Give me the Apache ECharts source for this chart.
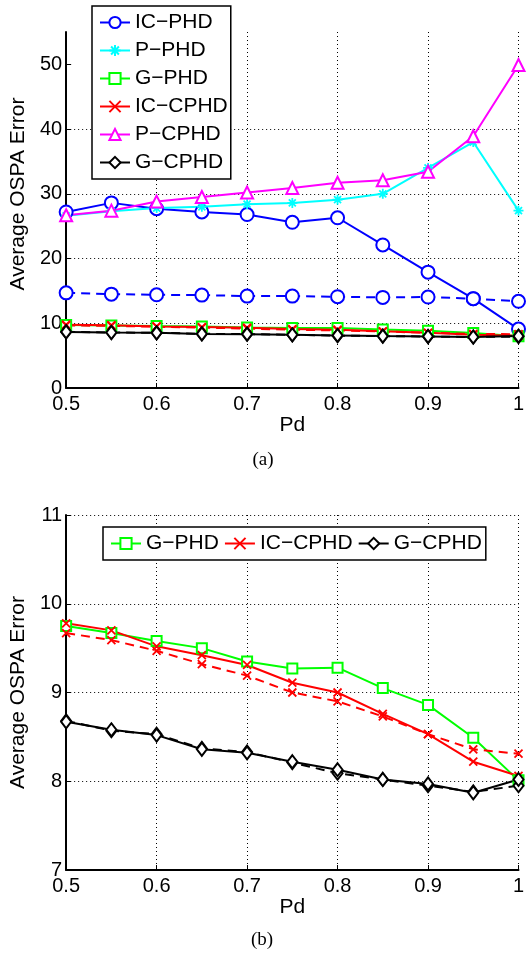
<!DOCTYPE html>
<html>
<head>
<meta charset="utf-8">
<script src="https://cdn.jsdelivr.net/npm/echarts@6/dist/echarts.min.js"></script>
<style>
html,body{margin:0;padding:0;background:#fff;}
#c{width:531px;height:953px;}
</style>
</head>
<body>
<div id="c"></div>
<script>
// ---------- data ----------
var pd = [0.5, 0.55, 0.6, 0.65, 0.7, 0.75, 0.8, 0.85, 0.9, 0.95, 1.0];
var xTicks = [0.5, 0.6, 0.7, 0.8, 0.9, 1];
var yTicksA = [0, 10, 20, 30, 40, 50];
var yTicksB = [7, 8, 9, 10, 11];

// chart (a)
var icPhd      = [27.2, 28.6, 27.7, 27.2, 26.8, 25.6, 26.3, 22.1, 17.9, 13.8, 9.1];
var icPhdDash  = [14.7, 14.5, 14.4, 14.35, 14.2, 14.2, 14.1, 14.0, 14.05, 13.8, 13.4];
var pPhd       = [26.6, 27.3, 27.8, 28.0, 28.4, 28.6, 29.1, 30.0, 34.0, 38.0, 27.4];
var pCphd      = [26.7, 27.4, 28.8, 29.5, 30.2, 30.9, 31.7, 32.1, 33.4, 38.9, 49.9];

// charts (a) and (b)
var gPhd        = [9.75, 9.67, 9.58, 9.50, 9.35, 9.27, 9.28, 9.05, 8.86, 8.49, 8.01];
var icCphd      = [9.78, 9.70, 9.52, 9.42, 9.31, 9.11, 9.00, 8.76, 8.53, 8.22, 8.06];
var icCphdDash  = [9.67, 9.59, 9.47, 9.32, 9.19, 9.00, 8.90, 8.73, 8.53, 8.36, 8.31];
var gCphd       = [8.67, 8.58, 8.52, 8.36, 8.32, 8.22, 8.13, 8.02, 7.97, 7.87, 8.02];
var gCphdDash   = [8.68, 8.57, 8.53, 8.37, 8.33, 8.21, 8.09, 8.02, 7.95, 7.88, 7.95];

var names = ['IC\u2212PHD', 'P\u2212PHD', 'G\u2212PHD', 'IC\u2212CPHD', 'P\u2212CPHD', 'G\u2212CPHD'];

// ---------- helpers ----------
function pts(v) { return pd.map(function (x, i) { return [x, v[i]]; }); }
var STAR = 'path://M5,0L5,10M0,5L10,5M1.5,1.5L8.5,8.5M8.5,1.5L1.5,8.5';
var CROSS = 'path://M0,0L10,10M10,0L0,10';
var FONT = 'Liberation Sans';

var styles = {
  'IC\u2212PHD':  {c: '#0000ff', sym: 'emptyCircle', size: 13},
  'P\u2212PHD':   {c: '#00ffff', sym: STAR, size: 10},
  'G\u2212PHD':   {c: '#00ff00', sym: 'emptyRect', size: 10},
  'IC\u2212CPHD': {c: '#ff0000', sym: CROSS, size: 8},
  'P\u2212CPHD':  {c: '#ff00ff', sym: 'emptyTriangle', size: 12},
  'G\u2212CPHD':  {c: '#000000', sym: 'emptyDiamond', size: [10, 13]}
};

function mk(name, vals, idx, dashed, legendName) {
  var s = styles[name];
  var isPath = s.sym.indexOf('path://') === 0;
  return {
    name: legendName || name,
    type: 'line',
    xAxisIndex: idx, yAxisIndex: idx,
    data: pts(vals),
    symbol: s.sym,
    symbolSize: s.size,
    showAllSymbol: true,
    animation: false,
    lineStyle: {color: s.c, width: 2, type: dashed ? [9, 6] : 'solid'},
    itemStyle: isPath ? {color: s.c, borderColor: s.c, borderWidth: 1.8}
                      : {color: s.c, borderWidth: 1.8},
    emphasis: {disabled: true}
  };
}

function xAx(idx) {
  return {
    type: 'value', gridIndex: idx, min: 0.5, max: 1, interval: 0.1,
    name: 'Pd', nameLocation: 'middle', nameGap: 27,
    nameTextStyle: {fontFamily: FONT, fontSize: 21, color: '#000'},
    axisLine: {show: true, onZero: false, lineStyle: {color: '#000', width: 2}},
    axisTick: {show: true, inside: true, length: 5, lineStyle: {color: '#000', width: 1}},
    axisLabel: {fontFamily: FONT, fontSize: 20, color: '#000', margin: 6,
                showMinLabel: true, showMaxLabel: true,
                formatter: function (v) { return String(Math.round(v * 10) / 10); }},
    splitLine: {show: true, lineStyle: {color: '#000', width: 1, type: [1, 3]}}
  };
}

function yAx(idx, min, max, interval, ticks, nameExtra) {
  return {
    type: 'value', gridIndex: idx, min: min, max: max, interval: interval,
    name: 'Average OSPA Error', nameLocation: 'middle', nameGap: 28,
    nameTextStyle: {fontFamily: FONT, fontSize: 21, color: '#000', padding: nameExtra},
    axisLine: {show: true, onZero: false, lineStyle: {color: '#000', width: 2}},
    axisTick: {show: true, inside: true, length: 5, customValues: ticks, lineStyle: {color: '#000', width: 1}},
    axisLabel: {fontFamily: FONT, fontSize: 20, color: '#000', margin: 4, customValues: ticks},
    splitLine: {show: true, showMaxLine: idx === 1, lineStyle: {color: '#000', width: 1, type: [1, 3]}}
  };
}

var series = [
  // chart (a)
  mk('IC\u2212PHD', icPhdDash, 0, true, 'icphd-dash'),
  mk('IC\u2212PHD', icPhd, 0, false),
  mk('P\u2212PHD', pPhd, 0, false),
  mk('P\u2212CPHD', pCphd, 0, false),
  mk('G\u2212PHD', gPhd, 0, false),
  mk('IC\u2212CPHD', icCphdDash, 0, true, 'iccphd-dash-a'),
  mk('IC\u2212CPHD', icCphd, 0, false),
  mk('G\u2212CPHD', gCphdDash, 0, true, 'gcphd-dash-a'),
  mk('G\u2212CPHD', gCphd, 0, false),
  // chart (b)
  mk('G\u2212PHD', gPhd, 1, false, 'G\u2212PHD b'),
  mk('IC\u2212CPHD', icCphdDash, 1, true, 'iccphd-dash-b'),
  mk('IC\u2212CPHD', icCphd, 1, false, 'IC\u2212CPHD b'),
  mk('G\u2212CPHD', gCphdDash, 1, true, 'gcphd-dash-b'),
  mk('G\u2212CPHD', gCphd, 1, false, 'G\u2212CPHD b')
];

var legendText = {fontFamily: FONT, fontSize: 21, color: '#000', lineHeight: 20};

var option = {
  backgroundColor: '#fff',
  animation: false,
  grid: [
    {left: 66, top: 32, width: 452.5, height: 356, containLabel: false},
    {left: 66, top: 515, width: 452.5, height: 355, containLabel: false}
  ],
  xAxis: [xAx(0), xAx(1)],
  yAxis: [yAx(0, 0, 55, 10, yTicksA, [0, 0, 0, 32]), yAx(1, 7, 11, 1, yTicksB, [0, 0, 0, 0])],
  legend: [
    {
      orient: 'vertical', left: 92, top: 6,
      data: names,
      itemWidth: 30, itemHeight: 14, itemGap: 7,
      padding: [6, 3, 6, 7],
      borderColor: '#000', borderWidth: 1.5, backgroundColor: '#fff',
      textStyle: legendText,
      selectedMode: false
    },
    {
      orient: 'horizontal', left: 103, top: 527,
      data: ['G\u2212PHD b', 'IC\u2212CPHD b', 'G\u2212CPHD b'],
      formatter: function (n) { return n.replace(' b', ''); },
      itemWidth: 30, itemHeight: 14, itemGap: 5,
      padding: [6, 4, 6, 7],
      borderColor: '#000', borderWidth: 1.5, backgroundColor: '#fff',
      textStyle: legendText,
      selectedMode: false
    }
  ],
  graphic: [
    {type: 'text', x: 263, y: 460, style: {text: '(a)', fontFamily: 'Liberation Serif', fontSize: 19, fill: '#000', align: 'center', verticalAlign: 'middle'}},
    {type: 'text', x: 262, y: 940, style: {text: '(b)', fontFamily: 'Liberation Serif', fontSize: 19, fill: '#000', align: 'center', verticalAlign: 'middle'}}
  ],
  series: series
};

var chart = echarts.init(document.getElementById('c'), null, {renderer: 'canvas'});
chart.setOption(option);
</script>
</body>
</html>
